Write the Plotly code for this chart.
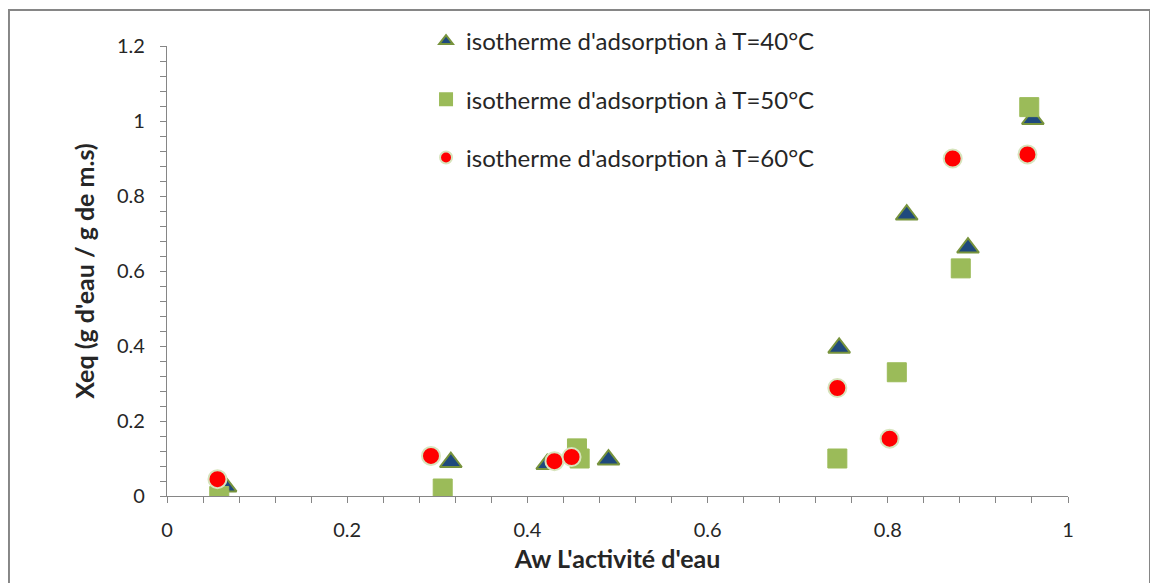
import plotly.graph_objects as go

# Data
aw_40 = [0.065, 0.315, 0.422, 0.490, 0.746, 0.821, 0.889, 0.961]
xeq_40 = [0.025, 0.090, 0.085, 0.097, 0.395, 0.750, 0.662, 1.005]

aw_50 = [0.058, 0.306, 0.455, 0.458, 0.744, 0.810, 0.881, 0.957]
xeq_50 = [0.000, 0.020, 0.127, 0.100, 0.100, 0.330, 0.607, 1.037]

aw_60 = [0.056, 0.293, 0.430, 0.449, 0.744, 0.802, 0.872, 0.955]
xeq_60 = [0.045, 0.107, 0.093, 0.104, 0.288, 0.153, 0.900, 0.911]

names = ["isotherme d'adsorption à T=40°C",
         "isotherme d'adsorption à T=50°C",
         "isotherme d'adsorption à T=60°C"]

x_ticks = [0, 0.2, 0.4, 0.6, 0.8, 1]
x_ticklabels = ["0", "0.2", "0.4", "0.6", "0.8", "1"]
y_ticks = [0, 0.2, 0.4, 0.6, 0.8, 1, 1.2]
y_ticklabels = ["0", "0.2", "0.4", "0.6", "0.8", "1", "1.2"]

FONT = "Lato, 'Open Sans', sans-serif"
AXIS_COLOR = "#868686"

fig = go.Figure()
fig.add_trace(go.Scatter(
    x=aw_40, y=xeq_40, mode="markers", name=names[0], legendgroup="a",
    marker=dict(symbol="triangle-up", size=19, color="#1F497D",
                line=dict(color="#77933C", width=2))))
fig.add_trace(go.Scatter(
    x=aw_50, y=xeq_50, mode="markers", name=names[1], legendgroup="b",
    marker=dict(symbol="square", size=19, color="#9BBB59",
                line=dict(color="#9BBB59", width=1))))
fig.add_trace(go.Scatter(
    x=aw_60, y=xeq_60, mode="markers", name=names[2], legendgroup="c",
    marker=dict(symbol="circle", size=18, color="#FF0000",
                line=dict(color="#D7E4BD", width=2))))

# The page body has an 8px margin, so the figure is drawn 8px right/down.
fig.update_layout(
    width=1150, height=575,
    margin=dict(l=159, r=90, t=37, b=87),
    paper_bgcolor="white", plot_bgcolor="white",
    font=dict(family=FONT, size=20, color="#262626"),
    showlegend=True,
    legend=dict(x=0.2875, y=1.0576, xanchor="left", yanchor="top",
                bgcolor="rgba(0,0,0,0)", font=dict(size=24, color="#262626"),
                tracegroupgap=24, itemsizing="constant"),
    xaxis=dict(range=[0, 1], tickvals=x_ticks, ticktext=x_ticklabels,
               showgrid=False, zeroline=False, showline=True,
               linecolor=AXIS_COLOR, linewidth=1.3,
               ticks="outside", ticklen=6, tickcolor=AXIS_COLOR,
               minor=dict(dtick=0.04, ticks="outside", ticklen=6, tickcolor=AXIS_COLOR),
               tickfont=dict(size=20, color="#262626"), ticklabelstandoff=10,
               title=dict(text="<b>Aw L'activité d'eau</b>", font=dict(size=25), standoff=10)),
    yaxis=dict(range=[0, 1.2], tickvals=y_ticks, ticktext=y_ticklabels,
               showgrid=False, zeroline=False, showline=True,
               linecolor=AXIS_COLOR, linewidth=1.3,
               ticks="outside", ticklen=6, tickcolor=AXIS_COLOR,
               minor=dict(dtick=0.04, ticks="outside", ticklen=6, tickcolor=AXIS_COLOR),
               tickfont=dict(size=20, color="#262626"), ticklabelstandoff=11,
               title=dict(text="<b>Xeq (g d'eau / g de m.s)</b>", font=dict(size=25), standoff=15)),
    shapes=[dict(type="rect", xref="paper", yref="paper",
                 x0=-0.1754, x1=1.091, y0=-0.2, y1=1.0798,
                 line=dict(color=AXIS_COLOR, width=2), layer="below")],
)

fig.write_html("out.html")
